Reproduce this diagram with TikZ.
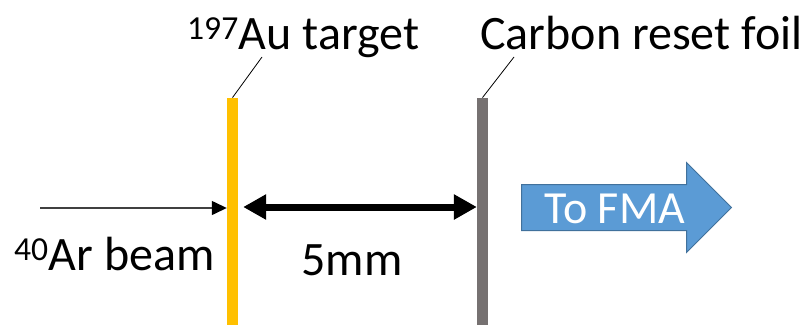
\documentclass[tikz,border=0pt]{standalone}
\usepackage{fontspec}
\setmainfont{Carlito}
\usepackage{xcolor}
\usetikzlibrary{arrows.meta, positioning, shapes.arrows}
\definecolor{gold}{HTML}{FFC000}
\definecolor{foilgray}{HTML}{767171}
\definecolor{fmablue}{HTML}{5B9BD5}
\definecolor{fmaedge}{HTML}{41719C}

\begin{document}
\begin{tikzpicture}[
        x=1pt, y=1pt,
        lbl/.style={font=\fontsize{48}{57}\selectfont, inner sep=0pt, anchor=base west},
        bar/.style={rectangle, inner sep=0pt, minimum width=11pt, minimum height=227pt, anchor=south},
        leader/.style={line width=0.8pt},
        beam/.style={line width=1.4pt, draw=black!75, -{Triangle[length=15pt, width=14pt, black]}},
        gap/.style={line width=7pt, {Triangle[length=23pt, width=24pt]}-{Triangle[length=23pt, width=24pt]}}
    ]
        \useasboundingbox (0,0) rectangle (807,325);
        \node[bar, fill=gold] (T) at (232.5,0) {};
        \node[bar, fill=foilgray] (F) at (482.5,0) {};
        \node[lbl] (Tl) at (187,276) {\textsuperscript{197}Au target};
        \node[lbl] (Fl) at (480,276) {Carbon reset foil};
        \node[lbl] (B) at (14,55) {\textsuperscript{40}Ar beam};
        \node[lbl, anchor=base] (D) at (352,50) {5mm};
        \coordinate (Tk) at (262,268);
        \coordinate (Fk) at (514,268);
        \coordinate (src) at (40,117);
        \draw[leader] (T.north) -- (Tk);
        \draw[leader] (F.north) -- (Fk);
        \draw[beam] (src) -- (T.west |- src);
        \draw[gap] ([xshift=5pt]T.east |- 0,118) -- (F.west |- 0,118);
        \node[single arrow, draw=fmaedge, fill=fmablue, line width=1pt,
              minimum height=210pt, single arrow head extend=22pt,
              text height=38pt, text depth=7pt, inner ysep=0pt, inner xsep=0pt,
              font=\fontsize{46}{54}\selectfont, text=white, anchor=tail] (A) at (521,117.5) {To FMA};
    \end{tikzpicture}
\end{document}
